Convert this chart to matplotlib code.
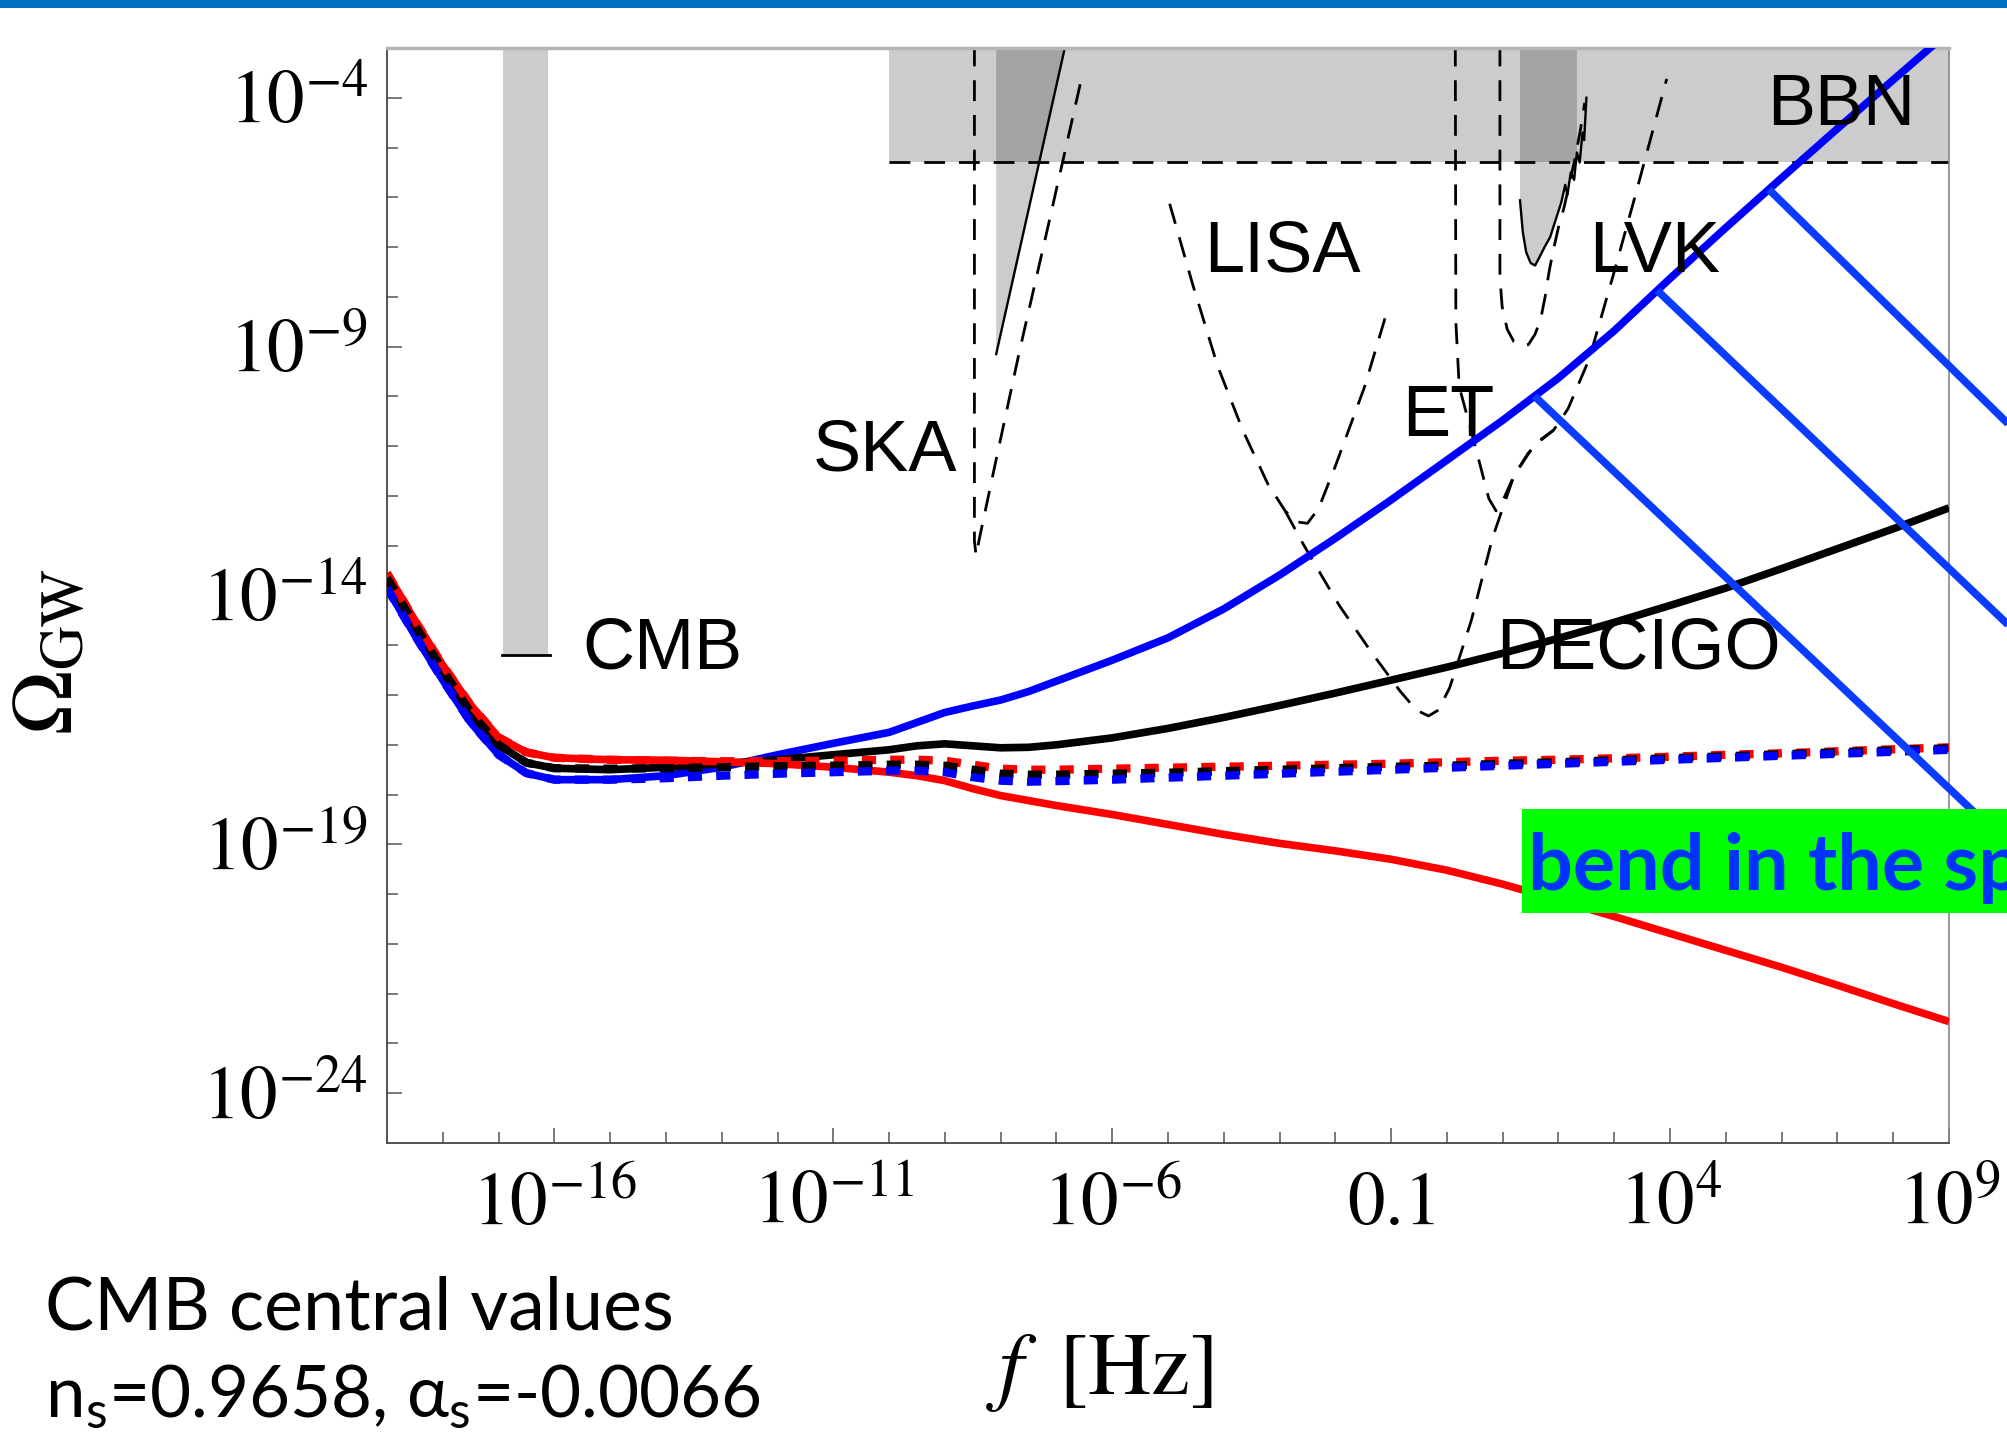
import numpy as np
import matplotlib
matplotlib.use("Agg")
import matplotlib.pyplot as plt
from matplotlib.patches import Rectangle
from matplotlib.ticker import NullFormatter

plt.rcParams["mathtext.fontset"] = "stix"
plt.rcParams["font.family"] = "STIXGeneral"
# the "custom" math set is only used by the slide-style notes
plt.rcParams["mathtext.rm"] = "Lato"
plt.rcParams["mathtext.it"] = "Lato:italic"

# all curves: log10(f / Hz) and log10(Omega_GW)
LOGF = [-19, -18.5, -18, -17.5, -17, -16.5, -16, -15, -14, -13, -12, -11, -10,
        -9.5, -9, -8.5, -8, -7.5, -7, -6, -5, -4, -3, -2, -1, 0, 1, 2, 3, 4,
        5, 6, 7, 8, 9]
RED_SOLID = [-13.55, -14.5, -15.4, -16.2, -16.85, -17.15, -17.26, -17.3, -17.31,
             -17.34, -17.38, -17.45, -17.55, -17.62, -17.72, -17.88, -18.02,
             -18.12, -18.22, -18.4, -18.6, -18.8, -18.98, -19.13, -19.3,
             -19.52, -19.8, -20.12, -20.45, -20.79, -21.13, -21.47, -21.83,
             -22.2, -22.56]
BLACK_SOLID = [-13.65, -14.6, -15.5, -16.35, -17.0, -17.36, -17.47, -17.5,
               -17.45, -17.38, -17.3, -17.2, -17.1, -17.02, -16.98, -17.02,
               -17.06, -17.05, -17.0, -16.86, -16.67, -16.45, -16.21, -15.96,
               -15.7, -15.44, -15.16, -14.86, -14.54, -14.2, -13.85, -13.46,
               -13.06, -12.66, -12.24]
BLUE_SOLID = [-13.85, -14.8, -15.7, -16.55, -17.2, -17.57, -17.7, -17.7,
              -17.62, -17.45, -17.2, -16.97, -16.75, -16.55, -16.35, -16.22,
              -16.1, -15.93, -15.72, -15.3, -14.85, -14.27, -13.59, -12.85,
              -12.08, -11.28, -10.48, -9.63, -8.68, -7.63, -6.61, -5.61,
              -4.62, -3.64, -2.67]
RED_DOTTED = [-13.55, -14.5, -15.4, -16.2, -16.85, -17.15, -17.26, -17.3,
              -17.32, -17.33, -17.33, -17.32, -17.3, -17.3, -17.32, -17.4,
              -17.48, -17.5, -17.5, -17.48, -17.46, -17.44, -17.42, -17.4,
              -17.38, -17.35, -17.32, -17.3, -17.27, -17.24, -17.2, -17.17,
              -17.13, -17.09, -17.05]
BLACK_DOTTED = [-13.65, -14.6, -15.5, -16.35, -17.0, -17.36, -17.47, -17.48,
                -17.47, -17.45, -17.43, -17.42, -17.4, -17.4, -17.42, -17.5,
                -17.58, -17.6, -17.6, -17.58, -17.56, -17.53, -17.5, -17.47,
                -17.44, -17.42, -17.38, -17.35, -17.31, -17.27, -17.23,
                -17.19, -17.15, -17.11, -17.07]
BLUE_DOTTED = [-13.85, -14.8, -15.7, -16.55, -17.2, -17.57, -17.7, -17.7,
               -17.67, -17.62, -17.58, -17.55, -17.52, -17.52, -17.55, -17.65,
               -17.72, -17.74, -17.73, -17.7, -17.66, -17.62, -17.58, -17.54,
               -17.5, -17.46, -17.42, -17.38, -17.34, -17.3, -17.26, -17.22,
               -17.18, -17.14, -17.1]

# bounds and sensitivities
BBN_LOGF = [-10, 9]
BBN_BOUND = -5.29
CMB_LOGF = [-16.92, -16.12]
CMB_BOUND = -15.2
PTA_LOGF = [-8.08, -6.85]
PTA_LOGOM = [-9.15, -3.0]
SKA_LOGF = [-8.47, -8.47, -8.44, -8.38, -8.1, -7.66, -7.18, -6.55]
SKA_LOGOM = [-2.95, -12.9, -13.2, -12.85, -11.37, -9.08, -6.73, -3.61]
LISA_LOGF = [-4.97, -4.56, -4.11, -3.66, -3.21, -2.9, -2.7, -2.5, -2.3, -2.0,
             -1.48, -1.07]
LISA_LOGOM = [-6.13, -7.74, -9.39, -10.68, -11.76, -12.3, -12.52, -12.55,
              -12.25, -11.4, -9.82, -8.28]
DECIGO_LOGF = [-2.9, -2.6, -2.3, -1.93, -1.36, -0.84, -0.55, -0.33,
               -0.15, 0.05, 0.44, 0.82, 1.2, 1.55, 1.91, 2.17, 2.55, 2.99,
               3.38, 3.94]
DECIGO_LOGOM = [-12.3, -12.92, -13.5, -14.2, -15.13, -15.92, -16.3,
                -16.42, -16.3, -15.85, -14.49, -12.83, -11.6, -11.0, -10.68,
                -10.25, -9.25, -7.53, -5.95, -3.62]
ET_LOGF = [0.15, 0.16, 0.22, 0.43, 0.6, 0.75, 0.88, 1.0, 1.2, 1.45, 1.7, 1.91]
ET_LOGOM = [-2.95, -8.5, -9.8, -10.68, -11.4, -12.05, -12.3, -12.1, -11.6,
            -11.15, -10.85, -10.68]
LVK_DASH_LOGF = [0.95, 0.95, 0.99, 1.08, 1.2, 1.35, 1.46, 1.58, 1.68, 1.76,
                 1.83, 1.9, 2.0, 2.1, 2.2, 2.3, 2.4, 2.47]
LVK_DASH_LOGOM = [-2.95, -7.6, -8.2, -8.65, -8.9, -8.98, -8.96, -8.75, -8.45,
                  -8.0, -7.5, -7.1, -6.6, -6.2, -5.7, -5.2, -4.6, -4.1]
LVK_LOGF = [1.31, 1.36, 1.42, 1.5, 1.58, 1.66, 1.75, 1.85, 1.95, 2.05, 2.12,
            2.16, 2.22, 2.28, 2.33, 2.38, 2.43, 2.46, 2.5]
LVK_LOGOM = [-6.06, -6.7, -7.1, -7.32, -7.37, -7.2, -7.0, -6.8, -6.45, -6.1,
             -5.75, -5.95, -5.5, -5.65, -5.1, -5.3, -4.7, -4.85, -4.0]
LVK_FILL_MAX = 2.35

LABELS = ["CMB", "SKA", "LISA", "LVK", "ET", "DECIGO", "BBN"]
LABEL_LOGF = [-15.49, -8.77, -4.36, 2.55, -0.81, 0.88, 5.74]
LABEL_LOGOM = [-15.46, -11.48, -7.5, -7.5, -10.79, -15.46, -4.54]
LABEL_HA = ["left", "right", "left", "left", "left", "left", "left"]

# pointers leaving the blue spectrum towards the right
POINTER_START_LOGF = [1.57, 3.77, 5.77]
POINTER_END_LOGF = [9.91, 11.7, 11.7]
POINTER_END_LOGOM = [-18.84, -16.34, -12.35]

XLIM = (-19, 9)
YLIM = (-25, -3)
XTICK_EXP = [-16, -11, -6, -1, 4, 9]
XTICK_LABELS = [r"$10^{-16}$", r"$10^{-11}$", r"$10^{-6}$", r"$0.1$",
                r"$10^{4}$", r"$10^{9}$"]
YTICK_EXP = [-24, -19, -14, -9, -4]
YTICK_LABELS = [r"$10^{-24}$", r"$10^{-19}$", r"$10^{-14}$", r"$10^{-9}$",
                r"$10^{-4}$"]


def p10(v):
    return 10.0 ** np.asarray(v, dtype=float)


W, H = 2008, 1438
fig = plt.figure(figsize=(W / 100, H / 100), dpi=100)
ax = fig.add_axes([387 / W, 1 - 1143 / H, (1949 - 387) / W, (1143 - 48) / H])
ax.set_xscale("log")
ax.set_yscale("log")
ax.set_xlim(p10(XLIM[0]), p10(XLIM[1]))
ax.set_ylim(p10(YLIM[0]), p10(YLIM[1]))

top = p10(YLIM[1])
shade = dict(facecolor="black", alpha=0.2, linewidth=0, zorder=1)
dash = dict(color="black", lw=2.0, linestyle=(0, (7.5, 5)), zorder=2)

# excluded regions
ax.fill_between(p10(BBN_LOGF), p10(BBN_BOUND), top, **shade)
ax.plot(p10(BBN_LOGF), p10([BBN_BOUND, BBN_BOUND]), **dash)
ax.fill_between(p10(CMB_LOGF), p10(CMB_BOUND), top, **shade)
ax.plot(p10([CMB_LOGF[0] - 0.02, CMB_LOGF[1] + 0.04]),
        p10([CMB_BOUND, CMB_BOUND]), color="black", lw=2.0, zorder=2)
ax.fill_between(p10(PTA_LOGF), p10(PTA_LOGOM), top, **shade)
ax.plot(p10(PTA_LOGF), p10(PTA_LOGOM), color="black", lw=1.7, zorder=2)
lvk_f = np.array(LVK_LOGF)
lvk_o = np.array(LVK_LOGOM)
m = lvk_f <= LVK_FILL_MAX
ax.fill_between(p10(lvk_f[m]), p10(lvk_o[m]), top, **shade)
ax.plot(p10(lvk_f), p10(lvk_o), color="black", lw=1.7, zorder=2)

# future sensitivities
for lf, lo in [(SKA_LOGF, SKA_LOGOM), (LISA_LOGF, LISA_LOGOM),
               (DECIGO_LOGF, DECIGO_LOGOM), (ET_LOGF, ET_LOGOM),
               (LVK_DASH_LOGF, LVK_DASH_LOGOM)]:
    ax.plot(p10(lf), p10(lo), **dash)

# spectra
f = p10(LOGF)
solid = dict(lw=5.5, solid_capstyle="butt", solid_joinstyle="round", zorder=3)
ax.plot(f, p10(BLUE_SOLID), color="#0000ff", **solid)
ax.plot(f, p10(BLACK_SOLID), color="black", **solid)
ax.plot(f, p10(RED_SOLID), color="#ff0000", **solid)
dots = dict(lw=6, linestyle=(0, (1.7, 1.7)), dash_capstyle="butt", zorder=4)
ax.plot(f, p10(RED_DOTTED), color="#ff0000", **dots)
ax.plot(f, p10(BLACK_DOTTED), color="black", **dots)
ax.plot(f, p10(BLUE_DOTTED), color="#0000ff", **dots)

for s, lf, lo, ha in zip(LABELS, LABEL_LOGF, LABEL_LOGOM, LABEL_HA):
    ax.text(p10(lf), p10(lo), s, fontfamily="Liberation Sans", fontsize=52,
            ha=ha, va="baseline", zorder=5)

start_lo = np.interp(POINTER_START_LOGF, LOGF, BLUE_SOLID)
for x0, y0, x1, y1 in zip(POINTER_START_LOGF, start_lo, POINTER_END_LOGF,
                          POINTER_END_LOGOM):
    ax.plot(p10([x0, x1]), p10([y0, y1]), color="#0a3cff", lw=5.5,
            solid_capstyle="butt", clip_on=False, zorder=6)

# axes frame and ticks
ax.set_xticks(p10(XTICK_EXP), XTICK_LABELS)
ax.set_xticks(p10(np.arange(XLIM[0] + 1, XLIM[1])), minor=True)
ax.set_yticks(p10(YTICK_EXP), YTICK_LABELS)
ax.set_yticks(p10(np.arange(YLIM[0] + 1, YLIM[1])), minor=True)
ax.xaxis.set_minor_formatter(NullFormatter())
ax.yaxis.set_minor_formatter(NullFormatter())
ax.tick_params(which="both", direction="in", top=False, right=False,
               color="#555555", width=1.1)
ax.tick_params(which="major", length=11, labelsize=54)
ax.tick_params(which="minor", length=8)
ax.tick_params(axis="x", which="major", pad=21)
ax.tick_params(axis="y", which="major", pad=14)
for side in ["left", "bottom"]:
    ax.spines[side].set_color("#444444")
    ax.spines[side].set_linewidth(1.3)
ax.spines["top"].set_color("#b5b5b5")
ax.spines["top"].set_linewidth(2.5)
ax.spines["right"].set_color("#888888")
ax.spines["right"].set_linewidth(1.2)

fig.text(52 / W, 1 - 651 / H, r"$\Omega_{\rm GW}$", rotation=90,
         ha="center", va="center", fontsize=62)
fig.text(1099 / W, 1 - 1373 / H, r"$f\;\;[\mathrm{Hz}]$", ha="center",
         va="center", fontsize=63)

# slide decorations
fig.patches.append(Rectangle((0, 1 - 8 / H), 1, 8 / H, transform=fig.transFigure,
                             facecolor="#0070c0", edgecolor="none", zorder=10))
fig.patches.append(Rectangle((1522 / W, 1 - 913 / H), 1, 104 / H,
                             transform=fig.transFigure, facecolor="#00ff00",
                             edgecolor="none", zorder=10))
fig.text(1528 / W, 1 - 890 / H, "bend in the spectrum", fontfamily="Lato",
         fontweight="bold", fontsize=57, color="#0033ff", va="baseline",
         zorder=11)
fig.text(45 / W, 1 - 1329 / H, "CMB central values", fontfamily="Lato",
         fontsize=53, va="baseline")
fig.text(45 / W, 1 - 1417 / H, r"n$_\mathrm{s}$=0.9658, α$_\mathrm{s}$=-0.0066",
         fontfamily=["Lato", "DejaVu Sans"], math_fontfamily="custom",
         fontsize=51, va="baseline")

fig.savefig("out.png", dpi=100)
